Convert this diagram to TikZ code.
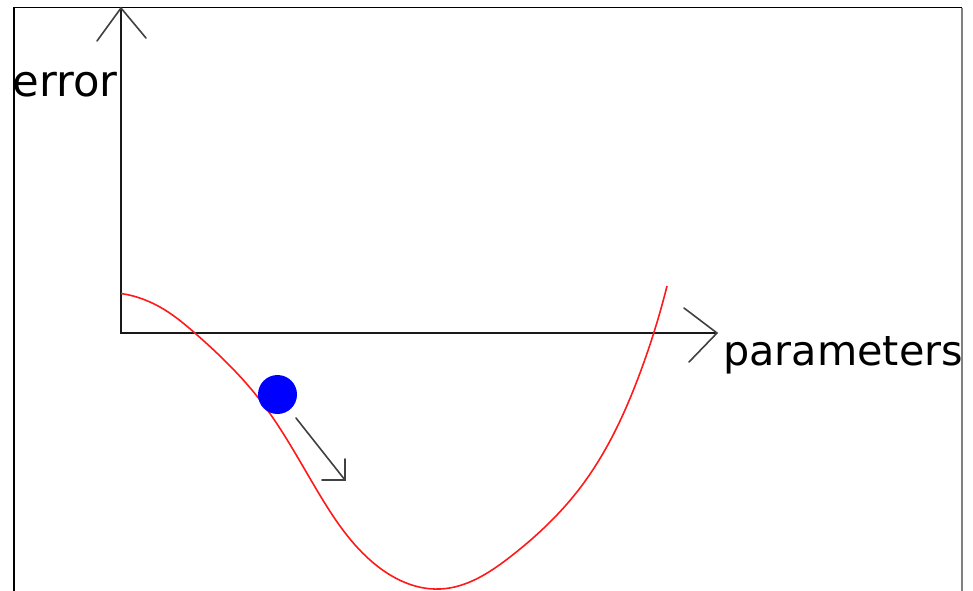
\documentclass[tikz,border=0pt]{standalone}
\usepackage{fontspec}
\setmainfont{DejaVu Sans}
\usetikzlibrary{hobby}
\begin{document}
\begin{tikzpicture}[x=0.75pt,y=-0.75pt,
  axisline/.style={line width=1.5pt,black!90},
  headline/.style={line width=1.2pt,black!75,line cap=round},
  curveline/.style={line width=1.2pt,red!90},
  label/.style={inner sep=0pt,anchor=base west,font=\fontsize{31}{36}\selectfont}]
\useasboundingbox (0,0) rectangle (973,590);
% frame
\draw[line width=0.9pt,black] (14,600) -- (14,7.5) -- (962,7.5);
\draw[line width=1.6pt,black!50] (962,7.5) -- (962,600);
% axes
\coordinate (O) at (121,333);
\coordinate (ytip) at (121,8);
\coordinate (xtip) at (717,333);
\coordinate (ya) at (97,41);
\coordinate (yb) at (146,38);
\coordinate (xa) at (684,308);
\coordinate (xb) at (689,362);
\draw[axisline] (ytip) -- (O) -- (xtip);
\draw[headline] (ya) -- (ytip) -- (yb);
\draw[headline] (xa) -- (xtip) -- (xb);
% labels
\node[label,font=\fontsize{32.5}{36}\selectfont] (err) at (12.5,96) {error};
\node[label] (par) at (723,365) {parameters};
% curve
\draw[curveline,use Hobby shortcut] ([out angle=-8]121,293.5) .. (165,310) .. (196,334) .. (260,400) .. (318,492) .. (370,560) .. (440,589) .. (510,557) .. (580,488) .. (640,373) .. (667,286);
% ball
\node[circle,fill=blue,minimum size=29.25pt,inner sep=0pt] (ball) at (277.5,394.5) {};
% arrow
\coordinate (as) at (296,418);
\coordinate (at) at (345,480);
\coordinate (aa) at (322,480);
\coordinate (ab) at (345,459);
\draw[headline] (as) -- (at);
\draw[headline] (aa) -- (at) -- (ab);
\end{tikzpicture}
\end{document}
